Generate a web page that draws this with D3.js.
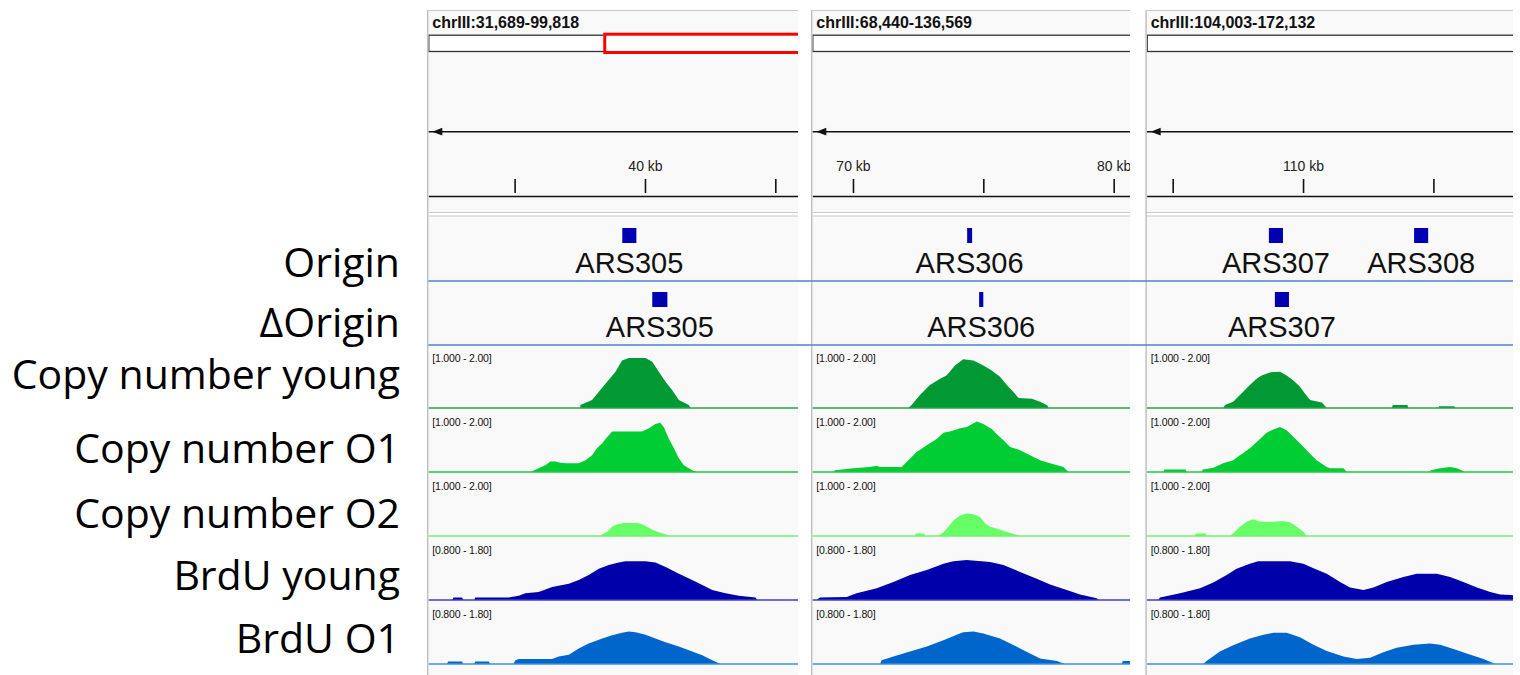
<!DOCTYPE html>
<html>
<head>
<meta charset="utf-8">
<script src="https://cdn.jsdelivr.net/npm/d3@7"></script>
<style>
  body { margin: 0; background: #fff; }
  svg { display: block; }
</style>
</head>
<body>
<script>
'use strict';

const width = 1520;
const height = 675;

// three IGV views of chrIII (kb)
const panelLoci = ["chrIII:31,689-99,818", "chrIII:68,440-136,569", "chrIII:104,003-172,132"];
const panelStarts = [31.689, 68.440, 104.003];
const panelEnds = [99.818, 136.569, 172.132];
const chrLength = 316.620;
const rulerTicks = [35, 40, 45, 70, 75, 80, 105, 110, 115];

const trackNames = ["Origin", "\u0394Origin", "Copy number young", "Copy number O1",
    "Copy number O2", "BrdU young", "BrdU O1"];

const originNames = ["ARS305", "ARS306", "ARS307", "ARS308"];
const originStarts = [39.13, 74.38, 108.69, 114.26];
const originEnds = [39.67, 74.57, 109.23, 114.80];

const deltaNames = ["ARS305", "ARS306", "ARS307"];
const deltaStarts = [40.28, 74.84, 108.92];
const deltaEnds = [40.86, 75.00, 109.46];

const cnRange = [1.0, 2.0];
const brduRange = [0.8, 1.8];
const rangeLabels = ["[1.000 - 2.00]", "[0.800 - 1.80]"];

// [kb, value]
const cnYoung = [
    [37.52,1.0],[37.52,1.05],[37.97,1.13],[38.23,1.26],[38.55,1.42],[38.87,1.58],[39.12,1.76],[39.38,1.80],
    [40.02,1.80],[40.28,1.74],[40.53,1.58],[40.79,1.42],[41.04,1.29],[41.30,1.13],[41.68,1.05],[41.75,1.0],
    [72.12,1.0],[72.25,1.05],[72.57,1.21],[72.95,1.37],[73.34,1.47],[73.59,1.52],[73.91,1.68],[74.23,1.78],
    [74.62,1.76],[75.00,1.68],[75.32,1.60],[75.64,1.50],[75.90,1.37],[76.15,1.26],[76.35,1.16],[76.86,1.15],
    [77.18,1.10],[77.46,1.04],[77.50,1.0],
    [106.94,1.0],[107.01,1.05],[107.32,1.10],[107.58,1.21],[107.96,1.37],[108.22,1.47],[108.41,1.52],[108.73,1.57],
    [109.12,1.58],[109.37,1.52],[109.63,1.44],[109.88,1.34],[110.08,1.23],[110.27,1.13],[110.72,1.09],[110.91,1.0],
    [113.40,1.0],[113.45,1.05],[114.00,1.05],[114.04,1.0],[115.19,1.0],[115.22,1.03],[115.80,1.03],[115.83,1.0]
];
const cnO1 = [
    [35.60,1.0],[35.92,1.06],[36.18,1.11],[36.37,1.17],[36.56,1.17],[36.76,1.15],[36.95,1.14],[37.46,1.14],
    [37.72,1.19],[37.97,1.27],[38.16,1.38],[38.36,1.46],[38.55,1.56],[38.74,1.65],[39.89,1.65],[40.15,1.70],
    [40.40,1.77],[40.59,1.79],[40.72,1.72],[40.92,1.53],[41.11,1.38],[41.30,1.22],[41.49,1.11],[41.81,1.03],[42.00,1.0],
    [69.24,1.0],[69.31,1.03],[70.01,1.06],[70.65,1.08],[70.91,1.10],[71.04,1.08],[71.87,1.08],[72.06,1.16],
    [72.44,1.32],[72.83,1.43],[73.21,1.53],[73.47,1.63],[73.72,1.65],[74.11,1.70],[74.36,1.72],[74.49,1.75],
    [74.75,1.81],[75.00,1.77],[75.32,1.69],[75.51,1.61],[75.77,1.51],[76.03,1.40],[76.41,1.35],[76.79,1.27],
    [77.18,1.19],[77.56,1.14],[78.07,1.08],[78.27,1.0],
    [104.64,1.0],[104.68,1.04],[105.50,1.04],[105.53,1.0],[106.11,1.0],[106.15,1.04],[106.56,1.07],[106.94,1.14],
    [107.32,1.19],[107.58,1.27],[107.96,1.38],[108.35,1.53],[108.60,1.63],[108.86,1.68],[109.12,1.72],[109.37,1.67],
    [109.63,1.56],[109.88,1.46],[110.20,1.32],[110.52,1.19],[110.91,1.08],[111.04,1.06],[111.55,1.06],[111.68,1.0],
    [114.87,1.0],[114.90,1.03],[115.26,1.06],[115.64,1.08],[115.90,1.06],[116.22,1.0]
];
const cnO2 = [
    [38.29,1.0],[38.36,1.03],[38.55,1.07],[38.74,1.15],[38.93,1.19],[39.19,1.21],[39.70,1.21],[39.89,1.19],
    [40.08,1.15],[40.28,1.10],[40.53,1.06],[40.79,1.03],[40.92,1.0],
    [72.38,1.0],[72.41,1.04],[72.73,1.04],[72.76,1.0],[73.27,1.0],[73.47,1.06],[73.66,1.15],[73.85,1.25],
    [74.11,1.33],[74.36,1.36],[74.62,1.35],[74.87,1.31],[75.07,1.20],[75.26,1.15],[75.51,1.12],[75.77,1.08],
    [76.03,1.05],[76.41,1.0],
    [105.85,1.0],[105.88,1.04],[106.27,1.04],[106.30,1.0],[107.20,1.0],[107.32,1.04],[107.58,1.15],[107.84,1.23],
    [108.09,1.27],[108.35,1.23],[108.86,1.23],[109.24,1.24],[109.50,1.22],[109.76,1.15],[110.01,1.07],[110.14,1.0]
];
const brduYoung = [
    [32.60,0.8],[32.66,0.84],[32.98,0.84],[33.04,0.8],[33.45,0.8],[33.49,0.84],[34.77,0.84],[35.16,0.87],
    [35.41,0.91],[35.92,0.93],[36.44,1.01],[37.08,1.06],[37.46,1.12],[37.84,1.20],[38.23,1.30],[38.61,1.36],
    [38.99,1.40],[39.25,1.42],[40.02,1.42],[40.40,1.40],[40.79,1.33],[41.30,1.22],[41.81,1.12],[42.20,1.04],
    [42.58,0.96],[43.09,0.91],[43.60,0.87],[44.24,0.84],[44.31,0.8],
    [68.60,0.8],[68.73,0.84],[69.76,0.85],[70.14,0.91],[70.91,0.99],[71.55,1.09],[72.19,1.20],[72.83,1.28],
    [73.47,1.38],[73.85,1.42],[74.36,1.44],[75.26,1.41],[75.77,1.36],[76.41,1.25],[77.05,1.14],[77.56,1.05],
    [78.20,0.96],[78.71,0.89],[79.35,0.83],[79.42,0.8],
    [104.45,0.8],[104.51,0.84],[105.28,0.91],[106.05,0.99],[106.56,1.08],[107.07,1.20],[107.45,1.30],[107.96,1.38],
    [108.28,1.42],[109.50,1.42],[110.01,1.38],[110.40,1.31],[110.91,1.22],[111.42,1.09],[111.80,1.00],[112.32,0.96],
    [112.70,1.00],[113.21,1.09],[113.85,1.17],[114.36,1.22],[115.13,1.22],[115.64,1.17],[116.15,1.09],[116.67,1.00],
    [117.18,0.93],[117.56,0.89],[117.95,0.88],[118.50,0.86]
];
const brduO1 = [
    [32.40,0.8],[32.45,0.84],[32.98,0.84],[33.03,0.8],[33.45,0.8],[33.49,0.84],[34.01,0.84],[34.06,0.8],
    [34.95,0.8],[35.03,0.86],[35.16,0.88],[36.44,0.88],[36.69,0.92],[37.08,0.95],[37.46,1.05],[37.84,1.13],
    [38.36,1.21],[38.74,1.26],[39.12,1.30],[39.38,1.32],[39.64,1.31],[40.02,1.27],[40.40,1.21],[40.79,1.15],
    [41.30,1.08],[41.81,1.00],[42.20,0.94],[42.58,0.86],[42.90,0.8],
    [71.04,0.8],[71.10,0.86],[71.55,0.92],[72.19,1.00],[72.83,1.08],[73.47,1.18],[73.98,1.27],[74.23,1.31],
    [74.62,1.32],[75.00,1.29],[75.64,1.21],[76.03,1.13],[76.41,1.05],[76.79,0.97],[77.18,0.89],[77.82,0.85],
    [78.14,0.8],[80.31,0.8],[80.35,0.85],[80.70,0.85],
    [106.17,0.8],[106.30,0.85],[106.81,1.00],[107.32,1.10],[107.96,1.21],[108.48,1.27],[108.86,1.30],[109.37,1.30],
    [109.88,1.23],[110.40,1.11],[110.91,1.01],[111.55,0.92],[112.06,0.88],[112.57,0.90],[113.08,0.99],[113.59,1.06],
    [114.24,1.11],[114.87,1.13],[115.26,1.11],[115.77,1.04],[116.28,0.97],[116.92,0.88],[117.37,0.8]
];

// layout
const pxPerKb = 26.07;
const panelLeft = [428.3, 812.3, 1146.7];
const panelRight = [798, 1130, 1513];
const ideoWidth = 1748;
const trackTop0 = 345;
const trackH = 64;
const labelY = [277, 337, 389, 463, 528, 590, 653];

const tracks = [
    {data: cnYoung, color: "#009933", base: "#20a84a", range: cnRange, label: rangeLabels[0]},
    {data: cnO1, color: "#00cc33", base: "#22c844", range: cnRange, label: rangeLabels[0]},
    {data: cnO2, color: "#66ff66", base: "#70f070", range: cnRange, label: rangeLabels[0]},
    {data: brduYoung, color: "#0000aa", base: "#3d3dc8", range: brduRange, label: rangeLabels[1]},
    {data: brduO1, color: "#0066cc", base: "#3d8fe0", range: brduRange, label: rangeLabels[1]}
];

const svg = d3.select("body")
    .append("svg")
    .attr("width", width)
    .attr("height", height);

const defs = svg.append("defs");

// left track names
svg.append("g").selectAll("text")
    .data(trackNames)
    .enter()
    .append("text")
    .attr("x", 400)
    .attr("y", (d, i) => labelY[i])
    .attr("text-anchor", "end")
    .attr("font-family", "'Open Sans', sans-serif")
    .attr("font-size", 41)
    .attr("fill", "#000")
    .text(d => d);

panelStarts.forEach((start, p) => {
    let left = panelLeft[p];
    let right = panelRight[p];
    let w = right - left;

    let x = d3.scaleLinear()
        .domain([start, start + w / pxPerKb])
        .range([left, right]);
    let [kbMin, kbMax] = x.domain();

    let ideo = d3.scaleLinear()
        .domain([0, chrLength])
        .range([left, left + ideoWidth]);

    defs.append("clipPath")
        .attr("id", "clip" + p)
        .append("rect")
        .attr("x", left)
        .attr("y", 0)
        .attr("width", w)
        .attr("height", height);

    let g = svg.append("g").attr("clip-path", "url(#clip" + p + ")");

    // backgrounds
    g.append("rect")
        .attr("x", left).attr("y", 10)
        .attr("width", w).attr("height", 203)
        .attr("fill", "#f9f9f9");
    g.append("rect")
        .attr("x", left).attr("y", 216)
        .attr("width", w).attr("height", height - 216)
        .attr("fill", "#f9f9f9");
    [10.5, 212.5, 216].forEach(yy => {
        g.append("line")
            .attr("x1", left).attr("x2", right)
            .attr("y1", yy).attr("y2", yy)
            .attr("stroke", "#c8c8c8")
            .attr("stroke-width", 1.2);
    });

    // locus text
    g.append("text")
        .attr("x", left + 4)
        .attr("y", 27.5)
        .attr("font-family", "'Liberation Sans', Arial, sans-serif")
        .attr("font-weight", "bold")
        .attr("font-size", 16)
        .attr("fill", "#111")
        .text(panelLoci[p]);

    // ideogram and current-view box
    g.append("rect")
        .attr("x", ideo(0) + 0.5).attr("y", 35.2)
        .attr("width", ideoWidth).attr("height", 16.3)
        .attr("fill", "#fff")
        .attr("stroke", "#333")
        .attr("stroke-width", 1.3);
    g.append("rect")
        .attr("x", ideo(start) + 1.5).attr("y", 34.2)
        .attr("width", ideo(panelEnds[p]) - ideo(start))
        .attr("height", 18.3)
        .attr("fill", "#fff")
        .attr("stroke", "#ff0000")
        .attr("stroke-width", 3);

    // strand line
    g.append("line")
        .attr("x1", left).attr("x2", right)
        .attr("y1", 131.7).attr("y2", 131.7)
        .attr("stroke", "#111")
        .attr("stroke-width", 1.5);
    g.append("path")
        .attr("d", d3.line()([[left + 4, 131.7], [left + 14, 127.8], [left + 14, 135.6]]) + "Z")
        .attr("fill", "#111");

    // ruler
    let ticks = rulerTicks.filter(t => t >= kbMin && t <= kbMax);
    let axis = d3.axisTop(x)
        .tickValues(ticks)
        .tickSizeInner(17)
        .tickSizeOuter(0)
        .tickPadding(8)
        .tickFormat(d => d % 10 === 0 ? d + " kb" : "");
    let ax = g.append("g")
        .attr("transform", "translate(0,196)")
        .call(axis);
    ax.select(".domain").attr("stroke", "#111").attr("stroke-width", 1.6);
    ax.selectAll(".tick line")
        .attr("y1", -3)
        .attr("stroke", "#111")
        .attr("stroke-width", 1.6);
    ax.selectAll(".tick text")
        .attr("font-family", "'Liberation Sans', Arial, sans-serif")
        .attr("font-size", 14)
        .attr("fill", "#222");

    // origin features inside this view
    let drawFeatures = (names, starts, ends, boxY, textY) => {
        let idx = d3.range(names.length).filter(i => ends[i] >= kbMin && starts[i] <= kbMax);
        let fg = g.append("g");
        fg.selectAll("rect")
            .data(idx)
            .enter()
            .append("rect")
            .attr("x", i => x(starts[i]))
            .attr("y", boxY)
            .attr("width", i => x(ends[i]) - x(starts[i]))
            .attr("height", 15)
            .attr("fill", "#0000b2");
        fg.selectAll("text")
            .data(idx)
            .enter()
            .append("text")
            .attr("x", i => x((starts[i] + ends[i]) / 2))
            .attr("y", textY)
            .attr("text-anchor", "middle")
            .attr("font-family", "'Liberation Sans', Arial, sans-serif")
            .attr("font-size", 29)
            .attr("fill", "#111")
            .text(i => names[i]);
    };
    drawFeatures(originNames, originStarts, originEnds, 228, 273);
    drawFeatures(deltaNames, deltaStarts, deltaEnds, 292, 337);

    // signal tracks
    tracks.forEach((t, i) => {
        let top = trackTop0 + i * trackH;
        let bottom = top + trackH - 1;
        let y = d3.scaleLinear().domain(t.range).range([bottom, top + 0.5]);

        let area = d3.area()
            .x(d => x(d[0]))
            .y0(y(t.range[0]))
            .y1(d => y(d[1]));

        let visible = t.data.filter(d => d[0] >= kbMin - 2 && d[0] <= kbMax + 2);

        g.append("path")
            .attr("d", area(visible))
            .attr("fill", t.color);

        g.append("line")
            .attr("x1", left).attr("x2", right)
            .attr("y1", bottom).attr("y2", bottom)
            .attr("stroke", t.base)
            .attr("stroke-width", 1.5);

        g.append("text")
            .attr("x", left + 4)
            .attr("y", top + 16.5)
            .attr("font-family", "'Liberation Sans', Arial, sans-serif")
            .attr("font-size", 10.5)
            .attr("letter-spacing", -0.2)
            .attr("fill", "#111")
            .text(t.label);
    });

    // left border
    svg.append("line")
        .attr("x1", left - 0.6).attr("x2", left - 0.6)
        .attr("y1", 10).attr("y2", height)
        .attr("stroke", "#c0c0c0")
        .attr("stroke-width", 1.5);
});

// separators of the origin tracks run across all panels
[281, 345].forEach(yy => {
    svg.append("line")
        .attr("x1", panelLeft[0]).attr("x2", panelRight[2])
        .attr("y1", yy).attr("y2", yy)
        .attr("stroke", "#4f7fd4")
        .attr("stroke-width", 1.3);
});
</script>
</body>
</html>
